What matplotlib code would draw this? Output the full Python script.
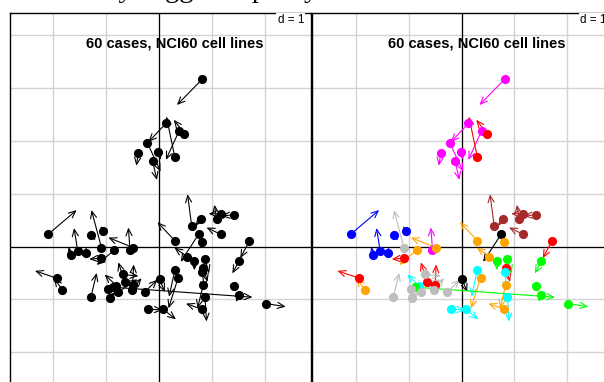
import matplotlib.pyplot as plt

# cell line tissue of origin, one entry per case (60 cases)
tissue = ["ME", "ME", "ME", "ME", "ME", "ME", "ME", "ME",
          "BR", "BR", "BR", "BR", "BR", "BR", "BR", "BR",
          "PR", "PR",
          "LE", "LE", "LE", "LE", "LE", "LE",
          "NS", "NS", "NS", "NS", "NS", "NS", "NS", "NS", "NS",
          "OV", "OV", "OV", "OV", "OV", "OV",
          "CO", "CO", "CO", "CO", "CO", "CO", "CO",
          "RE", "RE", "RE", "RE", "RE", "RE", "RE", "RE",
          "CN", "CN", "CN", "CN", "CN", "CN"]

# coordinates in the first table (circles)
x_start = [0.82, 0.13, 0.38, -0.22, -0.39, -0.01, -0.12, -0.55,
           0.30, 0.48, 1.71, -1.94, -1.09, -0.65, -0.50, 0.84,
           0.75, 0.01,
           0.30, 0.82, 0.87, -0.81, -0.20, 0.08,
           0.30, 0.81, 0.53, 0.36, 0.84, 0.81, -0.85, -0.49, -1.83,
           0.62, 0.79, 1.17, 1.09, 1.42, 1.17,
           0.67, 0.87, 1.51, 1.42, 1.51, 2.02, -0.88,
           -1.09, -1.29, -0.69, -0.96, -0.93, -0.77, -0.52, -0.27,
           -2.10, -1.28, -1.06, -1.67, -1.54, -1.39]
y_start = [3.17, 2.33, 2.19, 1.96, 1.78, 1.79, 1.61, -0.06,
           1.69, 2.14, 0.10, -0.60, -0.22, -0.67, -0.72, -0.40,
           0.23, -0.62,
           -0.45, -0.48, -0.95, -0.74, -1.19, -1.19,
           0.11, 0.08, -0.19, -0.60, -0.72, -1.19, -0.07, -0.02, -0.82,
           0.38, 0.52, 0.62, 0.52, 0.60, 0.23,
           -0.28, -0.24, -0.28, -0.75, -0.92, -1.08, -0.77,
           -0.02, -0.96, -0.53, -0.81, -0.97, -0.86, -0.82, -0.86,
           0.23, 0.21, 0.29, -0.17, -0.08, -0.12]

# coordinates in the second table (arrow tips)
x_end = [0.34, -0.20, 0.13, 0.03, -0.43, 0.03, -0.04, -0.58,
         0.14, 0.28, 1.54, -2.35, -1.32, -0.77, -0.48, 0.92,
         0.41, 0.11,
         0.19, 0.86, 0.90, -1.03, 0.07, 0.32,
         -0.03, 0.77, 0.29, 0.18, 0.73, 0.51, -1.18, -0.96, -1.99,
         0.54, 0.69, 0.94, 1.05, 1.18, 0.90,
         0.67, 0.95, 1.39, 1.45, 1.46, 2.40, 1.77,
         -1.28, -1.18, -0.39, -0.86, -0.82, -0.41, -0.33, -0.03,
         -1.56, -1.20, -1.09, -1.71, -1.61, -1.47]
y_end = [2.68, 1.98, 1.64, 1.42, 1.53, 1.64, 1.26, 0.36,
         2.46, 2.40, -0.22, -0.46, -0.24, -0.30, -0.34, -0.67,
         -0.29, -0.86,
         -0.95, -0.82, -1.42, -0.53, -1.20, -1.38,
         0.46, 0.16, -0.02, -1.17, -1.17, -1.08, -0.35, 0.17, -0.60,
         0.99, 0.39, 0.62, 0.79, 0.58, 0.36,
         -0.45, -0.51, -0.51, -0.86, -1.05, -1.14, -0.96,
         0.69, -0.50, -0.56, -0.71, -0.86, -0.62, -0.60, -0.63,
         0.69, 0.12, 0.20, -0.01, 0.35, -0.18]

tissue_colors = {"ME": "#FF00FF", "BR": "#FF0000", "PR": "#000000",
                 "LE": "#00FFFF", "NS": "#FFA500", "OV": "#A52A2A",
                 "CO": "#00FF00", "RE": "#BEBEBE", "CN": "#0000FF"}

title = "60 cases, NCI60 cell lines"

fig = plt.figure(figsize=(6.04, 3.82), dpi=100)

# partially visible caption line above the panels
fig.text(318 / 604, 1 + 3.0 / 382, "The NCI60 data clearly suggest a parity",
         ha="right", va="baseline", fontsize=20.5, family="Liberation Serif")

W, H = 604, 382
bottom_px, top_px = 430, 13
panels = [(10, False), (312.5, True)]

for left_px, colored in panels:
    ax = fig.add_axes([left_px / W, (H - bottom_px) / H, 300.5 / W,
                       (bottom_px - top_px) / H])
    ax.set_xlim(-2.822, 2.869)
    ax.set_ylim(-3.475, 4.422)
    ax.set_xticks(range(-2, 3))
    ax.set_yticks(range(-3, 5))
    ax.grid(color="#d3d3d3", lw=1.0, zorder=0)
    ax.tick_params(length=0, labelbottom=False, labelleft=False)
    ax.set_axisbelow(True)
    for sp in ax.spines.values():
        sp.set_linewidth(1.0)
    ax.axhline(0, color="black", lw=0.9, zorder=1)
    ax.axvline(0, color="black", lw=0.9, zorder=1)

    for i in range(len(tissue)):
        col = tissue_colors[tissue[i]] if colored else "black"
        ax.annotate("", xy=(x_end[i], y_end[i]), xytext=(x_start[i], y_start[i]),
                    arrowprops=dict(arrowstyle="->,head_length=0.5,head_width=0.22",
                                    color=col, lw=0.8, shrinkA=0, shrinkB=0),
                    zorder=2)
    for i in range(len(tissue)):
        col = tissue_colors[tissue[i]] if colored else "black"
        ax.plot(x_start[i], y_start[i], "o", color=col, ms=6.6, mew=0, zorder=3)

    ax.text(0.29, 3.85, title, ha="center", va="center", fontsize=10.5,
            fontweight="bold", family="Liberation Sans", zorder=4)
    ax.text(2.746, 4.29, "d = 1", ha="right", va="center", fontsize=8.5,
            family="Liberation Sans", zorder=4,
            bbox=dict(facecolor="white", edgecolor="none", pad=1.0))

fig.savefig("out.png", dpi=100)
